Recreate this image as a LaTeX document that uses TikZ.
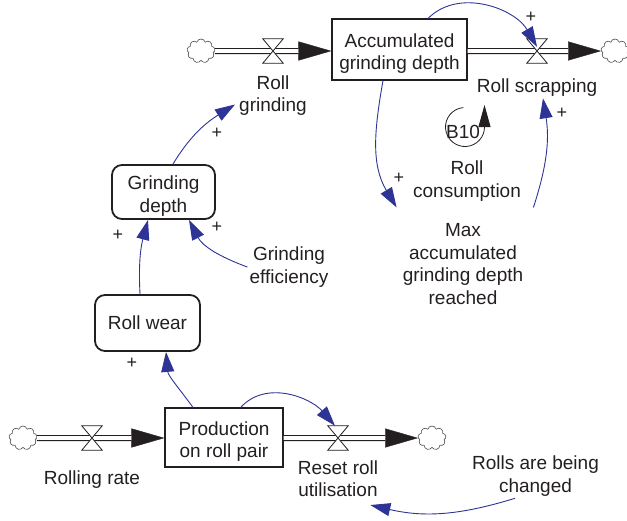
\documentclass[tikz,border=0pt]{standalone}
\usepackage{fontspec}
\setmainfont{Liberation Sans}
\usepackage{xcolor}
\usetikzlibrary{arrows.meta, positioning, shapes.symbols}

\definecolor{linkblue}{RGB}{45,52,150}
\definecolor{inkgray}{RGB}{35,31,32}

\begin{document}
\begin{tikzpicture}[
  x=1pt, y=1pt,
  font=\fontsize{19}{22.5}\selectfont,
  every node/.style={text=inkgray},
  stock/.style={rectangle, draw=inkgray, line width=1.1pt, align=center, inner sep=0pt},
  aux/.style={rectangle, rounded corners=10pt, draw=inkgray, line width=1.8pt, align=center, inner sep=0pt},
  var/.style={align=center, inner sep=2pt},
  flowname/.style={align=center, inner sep=0pt},
  sink/.style={cloud, cloud puffs=9, cloud ignores aspect, draw=inkgray!80, line width=0.6pt,
    minimum width=28pt, minimum height=24pt, inner sep=0pt},
  valve/.style={minimum width=20pt, minimum height=24pt, inner sep=0pt},
  pipetip/.style={draw=inkgray, line width=0.4pt, -{Triangle[length=33pt, width=19pt]}},
  pipe/.style={draw=inkgray, double=white, double distance=3.6pt, line width=1.2pt, shorten >=33pt},
  link/.style={draw=linkblue, line width=0.9pt, -{Triangle[length=20pt, width=13pt]}},
  pol/.style={font=\fontsize{18}{18}\selectfont, inner sep=1pt}
]
\useasboundingbox (0,0) rectangle (627,-520);

% stocks
\node[stock, minimum width=135pt, minimum height=61pt] (acc) at (399.5,-49.5) {\rule{0pt}{22pt}Accumulated\\grinding depth};
\node[stock, minimum width=118pt, minimum height=59pt] (prod) at (224,-437.5) {\rule{0pt}{22pt}Production\\on roll pair};

% auxiliaries
\node[aux, minimum width=103pt, minimum height=54pt] (grind) at (163.5,-192) {\rule{0pt}{22pt}Grinding\\depth};
\node[aux, minimum width=105pt, minimum height=56pt] (wear) at (147.5,-323) {Roll wear};
\node[var] (eff) at (289,-267) {Grinding\\efficiency};
\node[var] (maxd) at (463,-264) {Max\\accumulated\\grinding depth\\reached};
\node[var] (chg) at (535.5,-476) {Rolls are being\\changed};
\node[var] (rcons) at (467,-181) {Roll\\consumption};
\node[inner sep=0pt] (b10) at (463,-131.5) {B10};

% sources and sinks
\node[sink] (cg) at (201,-51) {};
\node[sink] (cs) at (615,-51) {};
\node[sink] (cr) at (23,-438) {};
\node[sink] (cu) at (432,-438) {};

% flows
\node[valve] (vg) at (273,-51) {};
\node[valve] (vs) at (537,-51) {};
\node[valve] (vr) at (92,-438) {};
\node[valve] (vu) at (338,-438) {};
\node[flowname, below=12pt of vg] (rg) {Roll\\grinding};
\node[flowname, below=15pt of vs] (rs) {Roll scrapping};
\node[flowname, below=20pt of vr] (rr) {Rolling rate};
\node[flowname, below=10pt of vu] (ru) {Reset roll\\utilisation};

% pipes
\draw[pipetip] (cg) -- (cg -| acc.west);
\draw[pipe] (cg) -- (cg -| acc.west);
\draw[pipetip] (acc.east |- cs) -- (cs);
\draw[pipe] (acc.east |- cs) -- (cs);
\draw[pipetip] (cr) -- (cr -| prod.west);
\draw[pipe] (cr) -- (cr -| prod.west);
\draw[pipetip] (prod.east |- cu) -- (cu);
\draw[pipe] (prod.east |- cu) -- (cu);
\foreach \v in {vg, vs, vr, vu}
  \draw[draw=inkgray, line width=0.8pt, fill=white]
    (\v.north west) -- (\v.north east) -- (\v.south west) -- (\v.south east) -- cycle;

% causal links
\draw[link] ([xshift=-31pt]prod.north) to[out=126, in=-85] ([xshift=18.5pt]wear.south);
\draw[link] ([xshift=-7.5pt]wear.north) to[out=93, in=-105] ([xshift=-15.5pt]grind.south);
\draw[link] (eff.west) to[out=160, in=-63] ([xshift=25.5pt]grind.south);
\draw[link] ([xshift=9.5pt]grind.north) to[out=59, in=-148] ([shift={(-4pt,-9pt)}]rg.west);
\draw[link] ([xshift=28.5pt]acc.north) to[out=45, in=120] ([yshift=-8pt]vs.north);
\draw[link] ([xshift=-16.5pt]acc.south) to[out=-100, in=121] ([shift={(-4pt,14pt)}]maxd.north west);
\draw[link] ([shift={(8pt,14pt)}]maxd.north east) to[out=72, in=-81] ([shift={(6pt,-2pt)}]rs.south);
\draw[link] ([xshift=16.7pt]prod.north) to[out=48, in=131] ([xshift=-3pt]vu.north);
\draw[link] ([xshift=-20.5pt]chg.south) to[out=197, in=-13] ([shift={(-8pt,-8pt)}]ru.south east);

% polarities
\node[pol] (pw) at (132,-363) {+};
\node[pol] (pg) at (118,-235) {+};
\node[pol] (pe) at (217,-227) {+};
\node[pol] (pr) at (217,-133) {+};
\node[pol] (ps) at (531,-17) {+};
\node[pol] (pm) at (399,-178) {+};
\node[pol] (px) at (562,-113) {+};

% loop marker
\coordinate (lc) at (465,-127);
\draw[draw=inkgray, line width=0.8pt, -{Triangle[length=22pt, width=12pt]}]
  (lc) ++(95:19.5) arc[start angle=95, end angle=360, radius=19.5] -- ++(0,22);
\end{tikzpicture}
\end{document}
